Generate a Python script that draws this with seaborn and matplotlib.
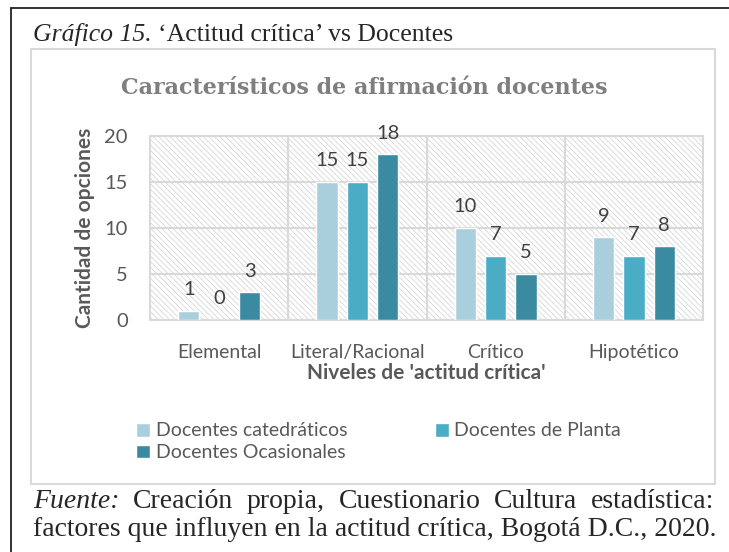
import matplotlib
matplotlib.use("Agg")
import matplotlib.pyplot as plt
from matplotlib.patches import Rectangle
from matplotlib.lines import Line2D
import seaborn as sns
import pandas as pd

categories = ["Elemental", "Literal/Racional", "Crítico", "Hipotético"]
series_names = ["Docentes catedráticos", "Docentes de Planta", "Docentes Ocasionales"]
catedraticos = [1, 15, 10, 9]
planta = [0, 15, 7, 7]
ocasionales = [3, 18, 5, 8]
colors = ["#A9CFDC", "#4BACC6", "#3A8BA1"]

rows = []
for name, vals in zip(series_names, [catedraticos, planta, ocasionales]):
    for c, v in zip(categories, vals):
        rows.append({"Nivel": c, "Grupo": name, "Valor": v})
df = pd.DataFrame(rows)

sns.set_style("white")
plt.rcParams["font.family"] = ["Lato", "DejaVu Sans"]
plt.rcParams["hatch.linewidth"] = 0.5

W, H = 729, 552
fig = plt.figure(figsize=(W / 100, H / 100), dpi=100)
renderer = fig.canvas.get_renderer()

def fx(x):
    return x / W

def fy(y):
    return 1 - y / H

def text_width(t):
    return t.get_window_extent(renderer=renderer).width

# outer black border (document frame)
fig.add_artist(Line2D([fx(11), fx(11)], [fy(8), fy(552)], color="#222222", lw=1.3, transform=fig.transFigure))
fig.add_artist(Line2D([fx(11), fx(729)], [fy(8), fy(8)], color="#222222", lw=1.3, transform=fig.transFigure))
# inner chart frame
fig.add_artist(Rectangle((fx(31), fy(484)), fx(715) - fx(31), fy(49) - fy(484),
                         fill=False, edgecolor="#D9D9D9", lw=1.5, transform=fig.transFigure))

ax = fig.add_axes([fx(150), fy(320), fx(703) - fx(150), fy(136) - fy(320)])

# hatched plot background
ax.add_patch(Rectangle((0, 0), 1, 1, transform=ax.transAxes, facecolor="white",
                       edgecolor="#D0D0D0", hatch="\\\\\\\\\\\\", lw=0, zorder=0))

sns.barplot(data=df, x="Nivel", y="Valor", hue="Grupo", order=categories,
            hue_order=series_names, palette=colors, width=0.66, gap=0.3,
            saturation=1, ax=ax, legend=False, zorder=3)

ax.set_ylim(0, 20)
ax.set_xlim(-0.5, 3.5)
ax.set_yticks([0, 5, 10, 15, 20])
for y in [5, 10, 15]:
    ax.axhline(y, color="#D9D9D9", lw=1.5, zorder=1)
for x in [0.5, 1.5, 2.5]:
    ax.axvline(x, color="#D9D9D9", lw=1.5, zorder=1)
for s in ax.spines.values():
    s.set_color("#D9D9D9")
    s.set_linewidth(1.5)
    s.set_zorder(2)

ax.tick_params(axis="both", length=0, colors="#595959")
ax.tick_params(axis="y", pad=16, labelsize=14.5)
ax.tick_params(axis="x", pad=17, labelsize=14)

for cont in ax.containers:
    ax.bar_label(cont, labels=[f"{int(v)}" for v in cont.datavalues],
                 padding=9, fontsize=14.5, color="#404040")

ax.set_xlabel("Niveles de 'actitud crítica'", fontsize=15, fontweight="bold",
              color="#595959", labelpad=2)
ax.set_ylabel("Cantidad de opciones", fontsize=15, fontweight="bold",
              color="#595959", labelpad=7)

fig.text(fx(364), fy(88), "Característicos de afirmación docentes", ha="center",
         va="center", fontsize=16, fontweight="bold", color="#7F7F7F",
         family="DejaVu Serif")

# caption
cap_size = 18.5
t1 = fig.text(fx(33), fy(35), "Gráfico 15.", fontsize=cap_size, style="italic",
              family="Liberation Serif", va="center", ha="left")
space = text_width(fig.text(0, 0, "a a", fontsize=cap_size, family="Liberation Serif", alpha=0)) - \
    text_width(fig.text(0, 0, "aa", fontsize=cap_size, family="Liberation Serif", alpha=0))
fig.text(fx(33 + text_width(t1) + space), fy(35), "‘Actitud crítica’ vs Docentes",
         fontsize=cap_size, family="Liberation Serif", va="center", ha="left")

# legend (row-wise order like the reference)
handles = [Rectangle((0, 0), 1, 1, facecolor=c) for c in colors]
order = [0, 2, 1]
fig.legend([handles[i] for i in order], [series_names[i] for i in order], loc="upper left",
           bbox_to_anchor=(fx(119), fy(405)), ncol=2, frameon=False, fontsize=14,
           handlelength=0.7, handleheight=0.7, handletextpad=0.3,
           columnspacing=4.5, labelspacing=0.25, labelcolor="#595959")

# source note, first line justified
src_size = 20
words = [("Fuente:", "italic"), ("Creación", "normal"), ("propia,", "normal"),
         ("Cuestionario", "normal"), ("Cultura", "normal"), ("estadística:", "normal")]
arts = [fig.text(0, fy(501), w, fontsize=src_size, style=st, family="Liberation Serif",
                 va="center", ha="left") for w, st in words]
widths = [text_width(a) for a in arts]
x0, x1 = 33, 714
gap = (x1 - x0 - sum(widths)) / (len(arts) - 1)
x = x0
for a, w in zip(arts, widths):
    a.set_x(fx(x))
    x += w + gap
fig.text(fx(33), fy(529), "factores que influyen en la actitud crítica, Bogotá D.C., 2020.",
         fontsize=src_size, family="Liberation Serif", va="center", ha="left")

fig.savefig("out.png", dpi=100)
